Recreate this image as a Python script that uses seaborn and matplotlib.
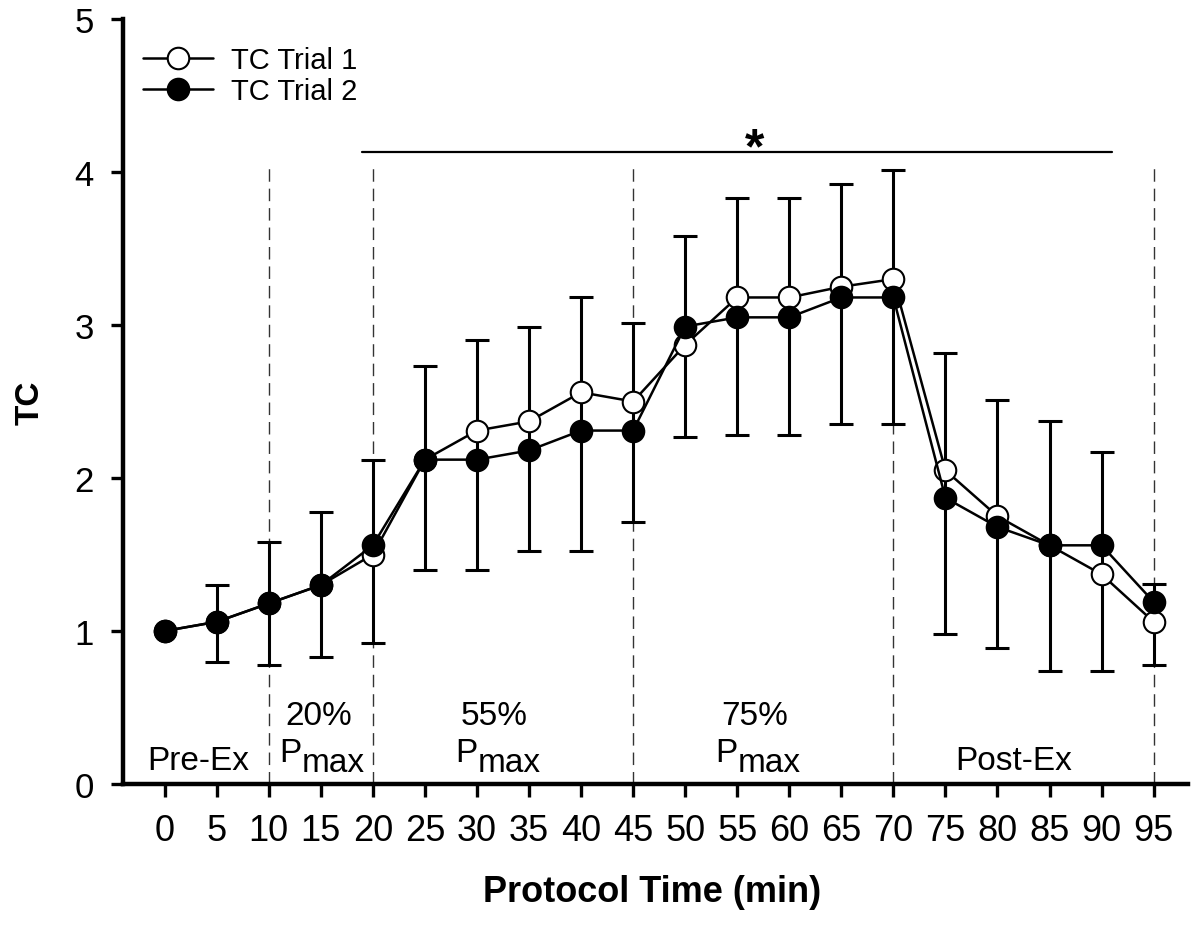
import numpy as np
import pandas as pd
import matplotlib
matplotlib.use("Agg")
import matplotlib.pyplot as plt
import seaborn as sns

# ---- data ----
time = [0, 5, 10, 15, 20, 25, 30, 35, 40, 45, 50, 55, 60, 65, 70, 75, 80, 85, 90, 95]
trial1 = [1.00, 1.06, 1.18, 1.30, 1.50, 2.12, 2.31, 2.37, 2.56, 2.50,
          2.87, 3.18, 3.18, 3.25, 3.30, 2.05, 1.75, 1.56, 1.37, 1.06]
trial2 = [1.00, 1.06, 1.18, 1.30, 1.56, 2.12, 2.12, 2.18, 2.31, 2.31,
          2.99, 3.05, 3.05, 3.18, 3.18, 1.87, 1.68, 1.56, 1.56, 1.19]
err_upper = [np.nan, 1.30, 1.58, 1.78, 2.12, 2.73, 2.90, 2.99, 3.18, 3.01,
             3.58, 3.83, 3.83, 3.92, 4.01, 2.82, 2.51, 2.37, 2.17, 1.31]
err_lower = [np.nan, 0.80, 0.78, 0.83, 0.92, 1.40, 1.40, 1.52, 1.52, 1.71,
             2.27, 2.28, 2.28, 2.35, 2.35, 0.98, 0.89, 0.74, 0.74, 0.78]
phase_bounds = [10, 20, 45, 70, 95]
x_ticks = list(range(0, 100, 5))
y_ticks = [0, 1, 2, 3, 4, 5]
series_labels = ["TC Trial 1", "TC Trial 2"]
phase_single = [("Pre-Ex", 3.2), ("Post-Ex", 81.6)]
phase_pct = [("20%", 14.8), ("55%", 31.7), ("75%", 56.7)]
sig_span = (19, 91)
sig_y = 4.13

# ---- style ----
sns.set_theme(style="white")
plt.rcParams["font.family"] = ["Liberation Sans", "DejaVu Sans"]
plt.rcParams["text.color"] = "black"
plt.rcParams["axes.labelcolor"] = "black"
plt.rcParams["xtick.color"] = "black"
plt.rcParams["ytick.color"] = "black"

fig = plt.figure(figsize=(11.92, 9.29), dpi=100)
ax = fig.add_axes([123 / 1192, 1 - 785 / 929, 1065 / 1192, 765 / 929])

df1 = pd.DataFrame({"time": time, "TC": trial1})
df2 = pd.DataFrame({"time": time, "TC": trial2})

up = np.array(err_upper)
lo = np.array(err_lower)
ax.errorbar(time, (up + lo) / 2, yerr=(up - lo) / 2, fmt="none", ecolor="black",
            elinewidth=2.2, capsize=8.6, capthick=2.2, zorder=2)

sns.lineplot(data=df1, x="time", y="TC", ax=ax, color="black", lw=1.8,
             marker="o", markersize=15.5, markerfacecolor="white",
             markeredgecolor="black", markeredgewidth=1.5, label=series_labels[0],
             zorder=3, legend=False)
sns.lineplot(data=df2, x="time", y="TC", ax=ax, color="black", lw=1.8,
             marker="o", markersize=15.5, markerfacecolor="black",
             markeredgecolor="black", markeredgewidth=1.5, label=series_labels[1],
             zorder=4, legend=False)

# phase boundaries
for xb in phase_bounds:
    ax.plot([xb, xb], [0, 4.05], color="#333333", lw=1.0,
            linestyle=(0, (9, 5)), zorder=1)

# significance bar
ax.plot(list(sig_span), [sig_y, sig_y], color="black", lw=1.6, zorder=1)
ax.text(56.7, 4.15, "*", ha="center", va="center", fontsize=36,
        fontweight="bold")

# phase labels
for txt, xc in phase_single:
    ax.text(xc, 0.10, txt, ha="center", va="baseline", fontsize=24)
for txt, xc in phase_pct:
    ax.text(xc, 0.39, txt, ha="center", va="baseline", fontsize=24)
    p = ax.annotate("P", xy=(xc + 0.3, 0.15), xytext=(-14.5, 0),
                    textcoords="offset points", ha="right", va="baseline",
                    fontsize=24)
    ax.annotate("max", xy=(1, 0), xycoords=p, xytext=(0, -7),
                textcoords="offset points", ha="left", va="bottom",
                fontsize=24)

# axes
ax.set_xlim(-4, 98.3)
ax.set_ylim(0, 5)
ax.set_xticks(x_ticks)
ax.set_yticks(y_ticks)
ax.set_xticklabels([str(t) for t in x_ticks])
ax.set_yticklabels([str(t) for t in y_ticks])
for s in ["top", "right"]:
    ax.spines[s].set_visible(False)
for s in ["left", "bottom"]:
    ax.spines[s].set_linewidth(3.2)
    ax.spines[s].set_color("black")
ax.tick_params(axis="both", direction="out", length=9, width=2.4,
               color="black", pad=12, labelcolor="black")
ax.tick_params(axis="x", bottom=True, labelsize=26)
ax.tick_params(axis="y", left=True, labelsize=25)
ax.set_xlabel("Protocol Time (min)", fontsize=26, fontweight="bold")
ax.set_ylabel("TC", fontsize=24, fontweight="bold")
ax.xaxis.set_label_coords(0.497, -0.141)
ax.xaxis.label.set_va("center")
ax.yaxis.set_label_coords(-0.087, 0.5)
ax.yaxis.label.set_va("center")
ax.grid(False)

leg = ax.legend(loc="upper left", bbox_to_anchor=(0.019, 0.965), frameon=False,
                fontsize=21, handlelength=2.4, handletextpad=0.6,
                labelspacing=0.12, borderpad=0, borderaxespad=0)

fig.savefig("out.png", dpi=100)
